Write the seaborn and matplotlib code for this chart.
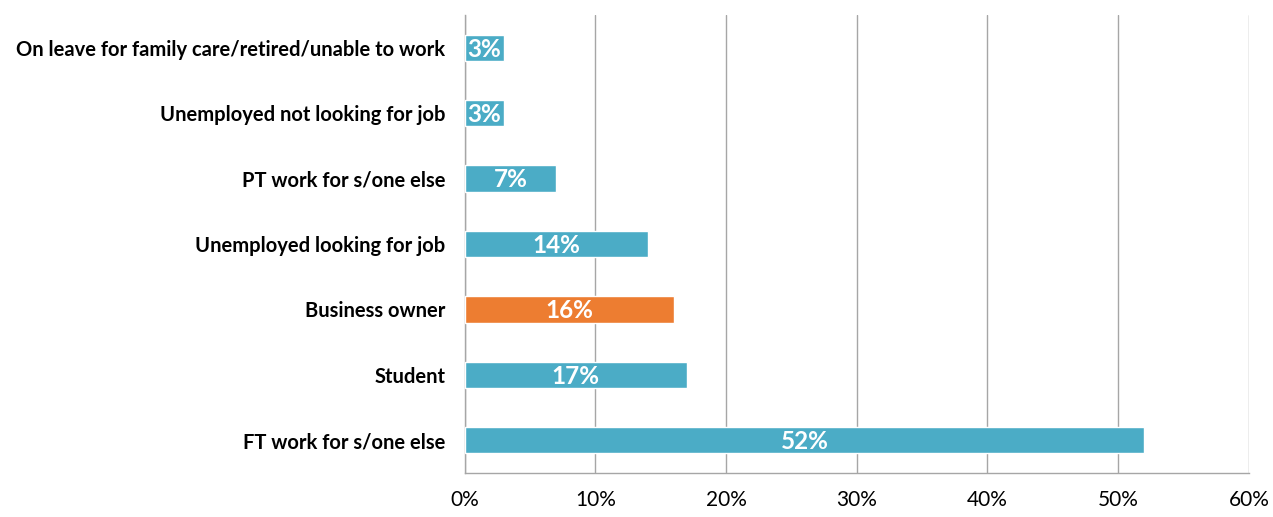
import numpy as np
import matplotlib
matplotlib.use("Agg")
import matplotlib.pyplot as plt
import pandas as pd
import seaborn as sns
from matplotlib.ticker import FixedLocator, PercentFormatter

categories = [
    "On leave for family care/retired/unable to work",
    "Unemployed not looking for job",
    "PT work for s/one else",
    "Unemployed looking for job",
    "Business owner",
    "Student",
    "FT work for s/one else",
]
values = [3, 3, 7, 14, 16, 17, 52]
highlight = "Business owner"

teal = "#4BACC6"
orange = "#ED7D31"

sns.set_style("white")
plt.rcParams["font.family"] = ["Lato", "DejaVu Sans"]

df = pd.DataFrame({"category": categories, "value": values})
palette = {c: (orange if c == highlight else teal) for c in categories}

fig = plt.figure(figsize=(12.73, 5.17), dpi=100)
ax = fig.add_axes([0.365, 0.085, 0.616, 0.886])

sns.barplot(data=df, x="value", y="category", hue="category", palette=palette,
            order=categories, width=0.4, saturation=1, legend=False, ax=ax, zorder=3)

for bar, v in zip(ax.patches, values):
    y = bar.get_y() + bar.get_height() / 2
    ax.text(v / 2, y + 0.02, f"{v}%", ha="center", va="center", color="white",
            fontsize=17.5, fontweight="bold", zorder=4)

ax.set_xlim(0, 60)
ax.set_ylim(len(categories) - 0.5, -0.5)
ax.set_xticks(np.arange(0, 61, 10))
ax.xaxis.set_major_formatter(PercentFormatter(decimals=0))
ax.xaxis.grid(True, color="#A6A6A6", linewidth=1)
ax.set_axisbelow(True)

ax.yaxis.set_major_locator(FixedLocator(range(len(categories))))
ax.set_yticklabels(categories, fontsize=14.5, fontweight="bold")
ax.yaxis.set_minor_locator(FixedLocator(np.arange(-0.5, len(categories), 1)))
ax.tick_params(axis="y", which="major", length=0, pad=14, labelcolor="black")
ax.tick_params(axis="y", which="minor", length=6, color="#A6A6A6", width=1)
ax.tick_params(axis="x", length=6, color="#A6A6A6", width=1, labelsize=15, pad=6,
               labelcolor="black")

ax.set_xlabel("")
ax.set_ylabel("")
for s in ["top", "right"]:
    ax.spines[s].set_visible(False)
for s in ["left", "bottom"]:
    ax.spines[s].set_color("#A6A6A6")
    ax.spines[s].set_linewidth(1)

fig.savefig("out.png", dpi=100)
